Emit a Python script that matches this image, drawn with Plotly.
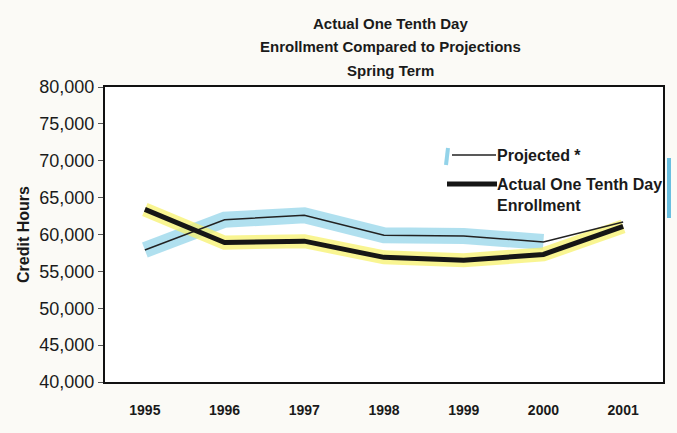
import plotly.graph_objects as go

years = ["1995", "1996", "1997", "1998", "1999", "2000", "2001"]
projected = [57900, 62000, 62600, 59900, 59800, 59000, 61700]
actual = [63400, 58900, 59100, 56900, 56500, 57300, 61100]
y_ticks = [40000, 45000, 50000, 55000, 60000, 65000, 70000, 75000, 80000]
y_tick_text = ["40,000", "45,000", "50,000", "55,000", "60,000", "65,000", "70,000", "75,000", "80,000"]
title_lines = ["Actual One Tenth Day", "Enrollment Compared to Projections", "Spring Term"]

FONT = "Liberation Sans, Arial, sans-serif"
INK = "#1a1a1a"

fig = go.Figure()

# highlighter strokes (from the scanned page)
fig.add_trace(go.Scatter(x=years[:6], y=projected[:6], mode="lines",
                         line=dict(color="rgba(150,214,234,0.75)", width=16),
                         hoverinfo="skip", showlegend=False))
fig.add_trace(go.Scatter(x=years, y=actual, mode="lines",
                         line=dict(color="rgba(247,242,110,0.75)", width=14),
                         hoverinfo="skip", showlegend=False))

fig.add_trace(go.Scatter(x=years, y=projected, mode="lines", name="Projected *",
                         line=dict(color="#222222", width=1.5), showlegend=False))
fig.add_trace(go.Scatter(x=years, y=actual, mode="lines", name="Actual One Tenth Day Enrollment",
                         line=dict(color="#161616", width=5), showlegend=False))

L, R, T, B = 105, 663, 87, 382

def px2x(px):
    return (px - L) / (R - L)
def px2y(py):
    return (B - py) / (B - T)

shapes = [
    dict(type="line", xref="paper", yref="paper", x0=px2x(452), x1=px2x(496),
         y0=px2y(155), y1=px2y(155), line=dict(color="#222", width=1.5)),
    dict(type="line", xref="paper", yref="paper", x0=px2x(447), x1=px2x(497),
         y0=px2y(184), y1=px2y(184), line=dict(color="#161616", width=5)),
    dict(type="line", xref="paper", yref="paper", x0=px2x(448), x1=px2x(446),
         y0=px2y(148), y1=px2y(165), line=dict(color="rgba(120,200,228,0.8)", width=4)),
    dict(type="line", xref="paper", yref="paper", x0=px2x(669), x1=px2x(669),
         y0=px2y(158), y1=px2y(218), line=dict(color="rgba(80,180,220,0.85)", width=4)),
]

annotations = [
    dict(text="Projected *", xref="paper", yref="paper", x=px2x(495), y=px2y(155),
         xanchor="left", yanchor="middle", showarrow=False,
         font=dict(family=FONT, size=16, color=INK, weight="bold")),
    dict(text="Actual One Tenth Day<br>Enrollment", xref="paper", yref="paper",
         x=px2x(495), y=px2y(174), xanchor="left", yanchor="top", align="left",
         showarrow=False, font=dict(family=FONT, size=16, color=INK, weight="bold")),
]
for i, line in enumerate(title_lines):
    annotations.append(dict(text=f"<b>{line}</b>", xref="paper", yref="paper",
                            x=px2x(390), y=px2y(23 + 23.5 * i), xanchor="center", yanchor="middle",
                            showarrow=False, font=dict(family=FONT, size=15, color=INK)))

fig.update_layout(
    width=677, height=433,
    margin=dict(l=L, r=677 - R, t=T, b=433 - B),
    paper_bgcolor="#fbfaf6",
    plot_bgcolor="#ffffff",
    font=dict(family=FONT, color=INK),
    shapes=shapes,
    annotations=annotations,
    showlegend=False,
)

fig.update_xaxes(type="category", range=[-0.5, 6.5], showgrid=False, automargin=False,
                 showline=True, linecolor="#111", linewidth=2, mirror=True,
                 ticks="", tickfont=dict(family=FONT, size=14, color=INK, weight="bold"),
                 ticklabelstandoff=14)
fig.update_yaxes(range=[40000, 80000], tickvals=y_ticks, ticktext=y_tick_text, automargin=False,
                 showgrid=False, showline=True, linecolor="#111", linewidth=2, mirror=True,
                 ticks="outside", ticklen=5, tickcolor="#555",
                 tickfont=dict(family=FONT, size=18, color=INK),
                 title=dict(text="<b>Credit Hours</b>", font=dict(family=FONT, size=16), standoff=6))

fig.write_html("out.html", config={"displayModeBar": False},
               post_script="document.body.style.margin='0';document.body.style.background='#fbfaf6';")
